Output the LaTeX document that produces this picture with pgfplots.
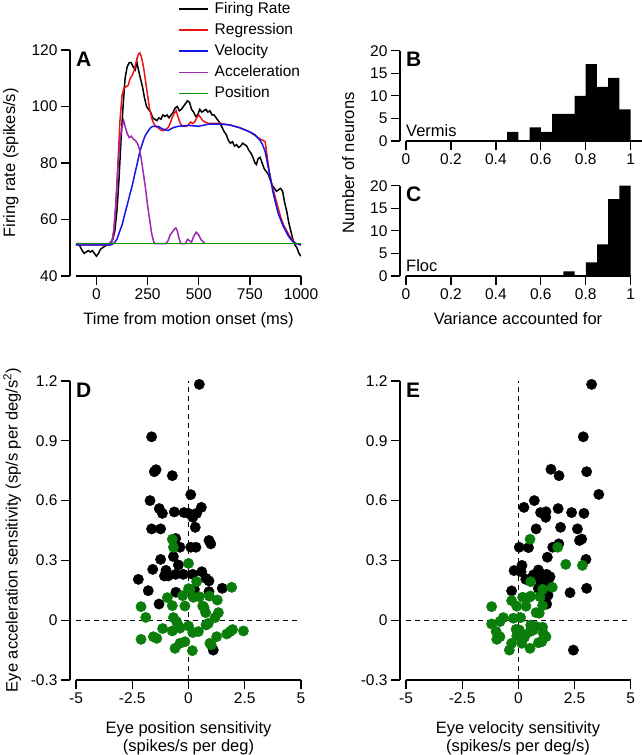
\documentclass[border=0pt]{standalone}
\usepackage{pgfplots}
\pgfplotsset{compat=1.18}
\usepackage{fontspec}
\setmainfont{Liberation Sans}
\definecolor{cgreen}{RGB}{0,150,0}
\definecolor{cgreenm}{RGB}{10,125,10}
\definecolor{cred}{RGB}{235,20,20}
\definecolor{cblue}{RGB}{20,20,235}
\definecolor{cpurple}{RGB}{155,40,175}
\newcommand{\fs}{\fontsize{16.5}{19}\selectfont}
\newcommand{\ft}{\fontsize{15.5}{18}\selectfont}
\newcommand{\fl}{\fontsize{21}{24}\selectfont\bfseries}
\pgfplotsset{myax/.style={scale only axis, axis x line*=bottom, axis y line*=left,
  axis y line shift=6pt, axis line style={-, line width=1.3pt},
  tick style={black, line width=1.3pt}, major tick length=9pt, tick align=outside,
  tick label style={font=\ft}, /pgf/number format/assume math mode=true,
  anchor=south west}}

\pgfplotstableread{
x y
0.48 1.183
-1.64 0.92
-1.52 0.745
-1.44 0.755
-0.72 0.725
-1.71 0.60
0.10 0.63
-1.30 0.56
-1.16 0.536
-0.63 0.543
-0.20 0.54
0.00 0.536
0.19 0.516
0.36 0.536
0.57 0.566
-1.64 0.458
-1.24 0.458
0.30 0.466
-0.57 0.41
-0.38 0.366
0.10 0.366
0.33 0.366
0.91 0.40
0.99 0.383
-1.24 0.305
-0.67 0.319
-0.45 0.277
-1.59 0.255
-1.00 0.25
-1.07 0.222
-0.90 0.222
-0.57 0.23
-0.23 0.23
0.19 0.23
0.59 0.243
0.78 0.21
0.91 0.197
-2.23 0.205
-1.79 0.148
-0.56 0.14
0.26 0.155
0.91 0.143
1.50 0.16
-1.31 0.081
1.10 -0.15
}\Dblack
\pgfplotstableread{
x y
-0.72 0.406
-0.67 0.366
0.00 0.285
0.36 0.193
0.00 0.158
0.07 0.155
-0.94 0.113
-0.26 0.123
0.21 0.115
0.48 0.118
0.93 0.121
1.28 0.101
1.92 0.165
-2.11 0.068
-0.72 0.073
-0.16 0.071
0.63 0.071
0.69 0.064
0.76 0.038
1.33 0.038
-1.90 0.014
-0.67 0.013
-0.53 -0.007
1.18 0.013
-1.15 -0.042
-0.72 -0.054
-0.42 -0.032
-0.38 -0.040
0.00 -0.029
0.19 -0.062
0.44 -0.057
0.78 -0.024
0.88 -0.016
1.70 -0.069
1.85 -0.057
1.96 -0.047
2.44 -0.054
-2.11 -0.096
-1.56 -0.083
-1.41 -0.091
1.25 -0.083
-0.60 -0.141
-0.38 -0.116
-0.16 -0.108
0.17 -0.153
0.95 -0.116
1.01 -0.124
}\Dgreen
\pgfplotstableread{
x y
3.26 1.183
2.89 0.92
1.45 0.757
1.81 0.725
3.04 0.745
3.58 0.631
0.71 0.60
0.25 0.566
0.99 0.54
1.23 0.544
1.22 0.516
1.77 0.56
2.37 0.54
2.92 0.536
1.88 0.466
0.79 0.458
2.63 0.458
2.72 0.40
2.82 0.407
0.04 0.366
0.45 0.364
1.53 0.366
1.80 0.383
1.29 0.316
3.01 0.305
0.16 0.275
-0.19 0.249
0.12 0.243
0.89 0.252
0.96 0.235
0.67 0.227
1.08 0.218
1.26 0.23
1.41 0.218
0.33 0.205
0.96 0.20
1.31 0.193
0.89 0.16
3.04 0.16
-0.30 0.147
2.30 0.138
1.32 0.125
1.26 0.081
2.45 -0.15
}\Eblack
\pgfplotstableread{
x y
0.52 0.406
1.75 0.366
2.11 0.28
2.85 0.275
0.55 0.193
1.51 0.165
1.08 0.155
-0.30 0.098
0.19 0.115
0.34 0.07
0.49 0.115
0.55 0.121
0.96 0.118
-0.07 0.07
1.08 0.073
-1.19 0.068
0.79 0.038
0.93 0.035
-0.67 0.013
-0.22 0.01
0.10 0.013
-0.82 -0.007
-1.19 -0.019
-0.99 -0.057
-0.82 -0.083
-0.96 -0.096
-0.10 -0.046
0.04 -0.049
0.10 -0.066
-0.07 -0.079
0.55 -0.024
0.67 -0.049
0.79 -0.032
0.52 -0.057
1.08 -0.035
1.23 -0.083
1.11 -0.066
0.27 -0.086
0.15 -0.116
-0.30 -0.116
-0.40 -0.15
0.52 -0.141
0.89 -0.113
1.04 -0.108
}\Egreen

\begin{document}
\begin{tikzpicture}[x=1pt,y=1pt]
\useasboundingbox (0,0) rectangle (642,755);

% ---------------- Panel A
\begin{axis}[myax, at={(76pt,479pt)}, width=225pt, height=226pt,
  xmin=-100, xmax=1000, ymin=40, ymax=120,
  xtick={0,250,500,750,1000}, xticklabels={0,250,500,750,1000},
  ytick={40,60,80,100,120}, yticklabels={40,60,80,100,120},
  legend style={draw=none, fill=none, at={(0.453,1.222)}, anchor=north west,
    font=\ft, inner sep=0pt, row sep=3.7pt, column sep=5pt,
    nodes={inner sep=1pt, text height=12pt, text depth=3.5pt}},
  legend cell align=left,
  legend image code/.code={\draw[#1, line width=1.6pt] (0pt,0pt) -- (29pt,0pt);},
  every axis plot/.append style={line width=1.5pt}]
\addplot[black] coordinates {(-100,51)(-90,51.5)(-80,50.5)(-70,49)(-60,48)(-50,48.5)(-40,49)(-30,48.5)(-20,49)(-10,48)(0,47)(10,48)(20,49.5)(30,50)(40,50.5)(50,51)(60,51)(70,52)(80,53)(90,56)(100,63)(110,74)(120,88)(130,100)(140,110)(150,114)(160,115.5)(170,115.5)(180,114)(190,113)(197,116)(205,113)(215,110)(225,107)(235,103)(245,100)(255,99)(265,98)(275,96)(285,95.5)(295,95)(305,96)(315,95.5)(325,97)(335,96.5)(345,97)(355,96)(365,97)(375,98)(385,99.5)(395,100)(405,98.5)(415,99)(425,100)(435,101)(445,102)(455,101.5)(465,99)(475,98)(485,96.5)(495,97)(505,99)(515,98)(525,98.5)(535,99)(545,98)(555,98.5)(565,97)(575,97)(585,96)(595,95)(605,94)(615,92.5)(625,91)(635,90)(645,88)(655,87)(665,87.5)(675,86)(685,86.5)(695,85.5)(705,86)(715,87)(725,86.5)(735,86)(745,84.5)(755,83.5)(765,82)(775,80)(782,79.5)(790,81.5)(800,82)(810,80)(820,78)(830,77)(840,76)(850,74)(860,72)(870,71)(880,70)(890,70.5)(900,71)(910,70)(920,66)(930,63)(940,59)(950,56)(960,53)(970,51)(980,50)(990,48)(1000,47)};
\addlegendentry{Firing Rate}
\addplot[cred] coordinates {(-100,51)(0,51)(60,51)(75,52)(85,56)(95,65)(105,80)(115,95)(125,104)(135,106.5)(145,107)(155,107.5)(165,110)(175,111)(185,113)(195,116)(205,118.5)(212,119)(220,117.5)(230,114)(240,109)(250,104)(260,99)(270,96)(280,94)(290,93)(300,92.5)(310,92)(320,91.5)(330,91.5)(340,92)(350,92.5)(360,94)(370,96)(380,97.5)(390,98.5)(400,96)(410,94)(420,93)(430,93)(440,93)(450,93.5)(460,94.5)(470,94)(480,94.5)(490,96)(500,97)(510,96)(520,95)(530,94.5)(550,94)(600,94)(650,93.5)(700,92.5)(750,91)(780,89.5)(800,88.5)(815,88)(825,87.5)(835,82)(845,77)(855,73)(870,69)(885,65)(900,61)(915,58)(930,56)(945,54)(960,52.5)(975,51.5)(1000,51)};
\addlegendentry{Regression}
\addplot[cblue] coordinates {(-100,51)(0,51)(70,51)(85,51.5)(100,53)(112,55.5)(125,58)(137,61.5)(150,65)(162,68.5)(175,72)(187,76)(200,80)(212,84)(225,87)(237,89.5)(250,91)(262,92.3)(275,93)(300,93)(325,92)(350,91.5)(375,92.5)(400,93)(450,93.3)(500,93)(550,93.8)(600,93.8)(650,93.5)(700,92.5)(750,91)(775,90)(800,88)(812,86.5)(825,84)(837,79.5)(850,75)(862,70)(875,66)(887,62.5)(900,60)(912,57.8)(925,56)(937,54.3)(950,53)(962,52)(975,51.5)(1000,51)};
\addlegendentry{Velocity}
\addplot[cpurple] coordinates {(-100,51.5)(60,51.5)(75,52)(85,56)(95,66)(105,78)(115,88)(125,93)(133,95)(140,93)(150,90.5)(160,89)(170,89.5)(180,88.5)(190,88)(200,87)(210,85)(220,81)(230,76)(240,71)(250,65)(260,60)(270,55)(280,52)(285,51.5)(340,51.5)(350,52.5)(360,54.5)(370,55.5)(380,56.5)(388,57)(395,56)(405,53)(412,51.5)(435,51.5)(445,53)(455,52.5)(465,52)(475,54)(488,55.5)(500,54.5)(510,53)(520,52.2)(530,51.5)};
\addlegendentry{Acceleration}
\addplot[cgreen] coordinates {(-100,51.5)(1000,51.5)};
\addlegendentry{Position}
\end{axis}

% ---------------- Panel B
\begin{axis}[myax, at={(406pt,614pt)}, width=235.9pt, height=90.3pt,
  xmin=0, xmax=1.05, ymin=0, ymax=20,
  xtick={0,0.2,0.4,0.6,0.8,1}, xticklabels={0,0.2,0.4,0.6,0.8,1},
  ytick={0,5,10,15,20}, yticklabels={0,5,10,15,20}]
\addplot[const plot mark left, fill=black, draw=none] coordinates {(0.45,2)(0.5,0)(0.55,3)(0.6,2)(0.65,6)(0.7,6)(0.75,10)(0.8,17)(0.85,12)(0.9,14)(0.95,7)(1.0,7)} \closedcycle;
\end{axis}

% ---------------- Panel C
\begin{axis}[myax, at={(406pt,479pt)}, width=224.7pt, height=90.3pt,
  xmin=0, xmax=1, ymin=0, ymax=20,
  xtick={0,0.2,0.4,0.6,0.8,1}, xticklabels={0,0.2,0.4,0.6,0.8,1},
  ytick={0,5,10,15,20}, yticklabels={0,5,10,15,20}]
\addplot[const plot mark left, fill=black, draw=none] coordinates {(0.7,1)(0.75,0)(0.8,3)(0.85,7)(0.9,17)(0.95,20)(1.0,20)} \closedcycle;
\end{axis}

% ---------------- Panel D
\begin{axis}[myax, at={(76pt,75pt)}, width=225pt, height=299pt,
  xmin=-5, xmax=5, ymin=-0.3, ymax=1.2,
  xtick={-5,-2.5,0,2.5,5}, xticklabels={-5,-2.5,0,2.5,5},
  ytick={-0.3,0,0.3,0.6,0.9,1.2}, yticklabels={-0.3,0,0.3,0.6,0.9,1.2}, clip=false]
\addplot[black, dash pattern=on 5pt off 4pt, line width=1.3pt] coordinates {(-5,0)(5,0)};
\addplot[black, dash pattern=on 5pt off 4pt, line width=1.3pt] coordinates {(0,-0.3)(0,1.2)};
\addplot[only marks, mark=*, mark size=5.2pt, black, mark options={draw=none, fill=black}] table {\Dblack};
\addplot[only marks, mark=*, mark size=5.2pt, cgreenm, mark options={draw=none, fill=cgreenm}] table {\Dgreen};
\end{axis}

% ---------------- Panel E
\begin{axis}[myax, at={(406pt,75pt)}, width=224.7pt, height=299pt,
  xmin=-5, xmax=5, ymin=-0.3, ymax=1.2,
  xtick={-5,-2.5,0,2.5,5}, xticklabels={-5,-2.5,0,2.5,5},
  ytick={-0.3,0,0.3,0.6,0.9,1.2}, yticklabels={-0.3,0,0.3,0.6,0.9,1.2}, clip=false]
\addplot[black, dash pattern=on 5pt off 4pt, line width=1.3pt] coordinates {(-5,0)(5,0)};
\addplot[black, dash pattern=on 5pt off 4pt, line width=1.3pt] coordinates {(0,-0.3)(0,1.2)};
\addplot[only marks, mark=*, mark size=5.2pt, black, mark options={draw=none, fill=black}] table {\Eblack};
\addplot[only marks, mark=*, mark size=5.2pt, cgreenm, mark options={draw=none, fill=cgreenm}] table {\Egreen};
\end{axis}

% ---------------- text
\node[anchor=north west, inner sep=0pt, font=\fl] at (76,703) {A};
\node[anchor=north west, inner sep=0pt, font=\fl] at (406,703) {B};
\node[anchor=north west, inner sep=0pt, font=\fl] at (406,568) {C};
\node[anchor=north west, inner sep=0pt, font=\fl] at (76,372) {D};
\node[anchor=north west, inner sep=0pt, font=\fl] at (406,372) {E};
\node[anchor=base west, inner sep=0pt, font=\fs] at (406,618) {Vermis};
\node[anchor=base west, inner sep=0pt, font=\fs] at (406,483) {Floc};
\node[anchor=base, inner sep=0pt, font=\fs] at (188.5,430) {Time from motion onset (ms)};
\node[anchor=base, inner sep=0pt, font=\fs] at (518,430) {Variance accounted for};
\node[anchor=north, rotate=90, inner sep=0pt, font=\fs] at (3,592) {Firing rate (spikes/s)};
\node[anchor=north, rotate=90, inner sep=0pt, font=\fs] at (342,592) {Number of neurons};
\node[anchor=north, rotate=90, inner sep=0pt, font=\fs] at (3,225) {Eye acceleration sensitivity (sp/s per deg/s\textsuperscript{2})};
\node[anchor=base, inner sep=0pt, font=\fs] at (188.5,21) {Eye position sensitivity};
\node[anchor=base, inner sep=0pt, font=\fs] at (188.5,3) {(spikes/s per deg)};
\node[anchor=base, inner sep=0pt, font=\fs] at (518,21) {Eye velocity sensitivity};
\node[anchor=base, inner sep=0pt, font=\fs] at (518,3) {(spikes/s per deg/s)};
\end{tikzpicture}
\end{document}
